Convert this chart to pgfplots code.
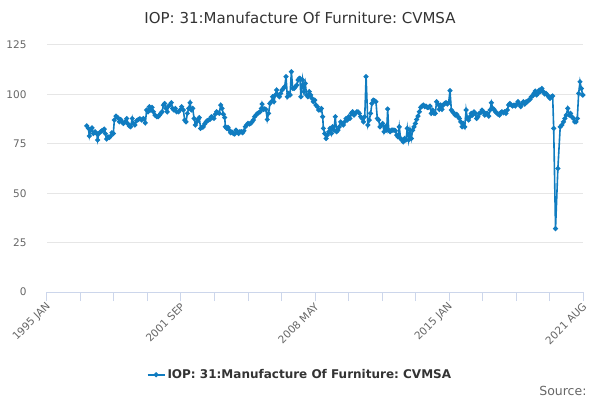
\documentclass[border=0pt]{standalone}
\usepackage{pgfplots}
\pgfplotsset{compat=1.18}
\usepackage{fontspec}
\setmainfont{DejaVu Sans}
\frenchspacing
\definecolor{lineblue}{RGB}{16,124,192}
\definecolor{axisblue}{HTML}{CCD6EB}
\definecolor{gridgray}{HTML}{E6E6E6}
\definecolor{ticktext}{HTML}{666666}
\definecolor{titletext}{HTML}{333333}
\begin{document}
\begin{tikzpicture}[x=1pt,y=1pt]
\path[use as bounding box] (0,0) rectangle (600,400);
\node[font=\fontsize{15}{18}\selectfont, text=titletext] at (300,382) {IOP: 31:Manufacture Of Furniture: CVMSA};
\node[font=\fontsize{12.5}{14}\selectfont, text=ticktext, anchor=east] at (590,9) {Source:};
\begin{axis}[
  at={(47pt,108pt)}, anchor=south west,
  scale only axis, width=536pt, height=247pt,
  xmin=0, xmax=320, ymin=0, ymax=125,
  axis x line*=bottom, axis y line*=left,
  axis line style={-},
  y axis line style={draw=none},
  x axis line style={color=axisblue, line width=1pt},
  ytick={0,25,50,75,100,125},
  ytick style={draw=none},
  xtick={0,80,160,240,320},
  xticklabels={1995 JAN,2001 SEP,2008 MAY,2015 JAN,2021 AUG},
  minor xtick={20,40,60,100,120,140,180,200,220,260,280,300},
  tick align=outside,
  major tick length=9pt, minor tick length=9pt,
  x tick style={color=axisblue, line width=1pt},
  minor x tick style={color=axisblue, line width=1pt},
  ymajorgrids, grid style={color=gridgray, line width=1pt},
  /pgf/number format/assume math mode=true,
  yticklabel style={font=\fontsize{10.5}{12}\selectfont, text=ticktext, xshift=-8pt},
  xticklabel style={font=\fontsize{10.5}{12}\selectfont, text=ticktext, rotate=45, anchor=east, yshift=-4pt, xshift=2pt},
  legend style={at={(0.472,-0.335)}, anchor=center, draw=none, fill=none,
    font=\bfseries\fontsize{12}{14}\selectfont, text=titletext},
  legend cell align=left,
]
\addplot[color=lineblue, line width=1.6pt, mark=*, mark size=1.6pt, mark options={fill=lineblue, draw=lineblue}] table {
x y
23.7 84.1
24.7 82.8
25.3 78.9
26.1 81.9
26.9 83.1
27.7 80.2
28.7 81.1
29.7 80.2
30.2 76.9
31.0 80.2
32.0 81.1
32.8 81.6
33.6 81.9
34.2 82.4
34.8 80.2
35.6 77.4
36.4 78.5
37.2 78.2
38.0 78.9
38.8 80.6
39.6 80.2
40.2 87.0
41.2 89.0
42.2 88.3
43.2 86.1
44.0 87.3
44.8 86.1
45.6 85.3
46.6 86.1
47.6 87.8
48.4 85.0
49.2 84.0
49.9 83.6
50.9 87.8
51.5 85.3
52.5 84.5
53.5 86.7
54.5 87.3
55.5 87.7
56.5 87.0
57.5 87.8
58.7 85.6
59.5 92.1
60.3 91.2
61.1 93.8
61.9 92.1
62.7 93.4
63.5 91.2
64.5 89.5
65.5 88.7
66.3 88.7
67.1 89.5
67.9 90.4
68.7 91.2
69.5 94.6
70.2 95.4
71.0 92.9
71.8 91.2
72.6 94.1
73.4 94.6
74.2 95.8
75.0 92.9
75.8 92.1
76.6 92.9
77.4 91.2
78.6 91.2
79.4 92.1
80.4 93.8
81.4 92.1
82.2 87.0
83.0 86.1
83.8 90.4
84.6 92.9
85.4 95.8
86.2 92.1
87.0 92.9
87.8 87.8
88.6 84.5
89.4 86.1
90.1 87.3
90.9 88.3
91.7 82.8
92.5 83.3
93.3 83.6
94.1 85.0
94.9 86.0
95.7 86.7
96.5 87.0
97.3 87.3
98.1 88.7
98.9 88.3
99.7 87.8
100.5 90.0
101.3 91.2
102.1 90.7
102.9 90.4
103.7 94.6
104.5 92.9
105.3 90.0
106.1 88.3
106.5 83.6
107.3 82.8
108.1 83.3
108.9 81.9
109.6 80.6
110.4 80.9
111.2 80.2
112.0 79.9
112.8 81.9
113.6 81.1
114.4 80.2
115.2 81.1
116.0 81.1
116.8 80.6
117.6 81.6
118.4 83.6
119.2 84.5
120.0 85.3
120.8 85.0
121.6 85.3
122.4 86.1
123.2 87.0
124.0 88.7
124.8 89.5
125.6 90.4
126.4 90.7
127.2 91.2
128.0 92.9
128.4 95.1
129.2 92.4
130.0 92.7
130.7 92.4
131.5 87.3
132.3 90.4
133.1 95.4
133.9 96.3
134.7 98.8
135.5 96.3
136.3 99.7
137.1 102.2
137.9 99.7
138.7 98.8
139.5 100.5
140.3 102.2
141.1 103.0
141.9 103.9
142.7 109.0
143.5 98.8
144.3 100.5
145.1 99.7
145.9 111.5
146.7 103.0
147.5 103.0
148.3 103.9
149.1 104.7
149.9 107.3
150.6 108.1
151.0 108.1
151.6 98.8
152.6 107.3
153.4 101.4
154.2 105.6
155.0 99.7
155.8 98.8
156.6 101.4
157.4 99.7
158.2 98.0
159.0 96.3
159.8 97.1
160.6 94.6
161.4 93.8
162.2 92.1
163.0 92.1
163.8 92.9
164.6 88.7
165.0 82.8
165.8 80.2
166.6 77.7
167.4 79.4
168.2 81.1
169.0 82.8
169.8 80.2
170.5 83.6
171.3 81.9
172.1 88.7
172.9 81.1
173.7 81.9
174.5 83.6
175.3 86.1
176.1 85.3
176.9 84.5
177.7 86.1
178.5 87.8
179.3 87.0
180.1 88.7
180.9 87.8
181.7 90.4
182.5 91.2
183.3 89.5
184.1 90.4
184.9 91.2
185.7 91.2
186.5 90.4
187.3 88.7
188.1 87.8
188.9 86.1
189.7 88.7
190.5 109.0
191.6 84.5
192.4 87.0
193.2 90.4
194.0 95.4
194.8 97.1
195.6 96.8
196.4 96.3
197.2 87.8
198.0 87.0
198.8 83.6
199.6 84.5
200.4 85.3
201.2 81.1
202.0 83.6
202.8 81.9
203.4 92.6
204.0 81.9
204.8 81.1
205.6 81.9
206.4 81.9
207.2 81.9
208.0 81.6
208.8 79.4
209.6 78.5
210.3 83.6
211.1 77.7
211.9 76.9
212.7 76.0
213.5 77.7
214.3 76.9
215.1 82.8
215.9 76.9
216.7 81.9
217.5 77.7
218.3 81.9
219.1 83.6
219.9 85.3
220.7 87.3
221.5 89.0
222.3 91.2
223.1 93.4
223.9 94.1
224.7 94.6
225.5 93.8
226.3 94.1
227.1 93.4
227.9 93.4
228.7 94.1
229.4 90.4
230.2 92.1
231.0 90.4
231.8 90.4
232.6 96.3
233.4 95.1
234.2 92.4
235.0 94.6
235.8 92.4
236.6 94.6
237.4 95.4
238.2 95.8
239.0 95.1
239.8 95.8
240.6 101.9
241.4 92.1
242.2 91.2
243.0 90.4
243.8 89.5
244.6 89.9
245.4 88.7
246.2 87.8
247.0 86.1
247.8 83.6
248.6 85.3
249.4 83.6
250.2 92.1
251.0 87.8
251.7 87.0
252.5 88.7
253.3 90.4
254.1 89.5
254.9 91.2
255.7 90.4
256.5 87.8
257.3 88.7
258.1 90.4
258.9 90.7
259.7 92.1
260.5 91.2
261.3 89.5
262.1 90.4
262.9 90.4
263.7 89.0
264.5 92.1
265.3 95.8
266.1 92.9
266.9 92.4
267.7 91.2
268.5 90.7
269.3 90.0
270.1 89.5
270.8 90.7
271.6 91.2
272.4 90.7
273.2 91.2
274.0 90.4
274.8 92.1
275.6 94.6
276.4 95.4
277.2 94.6
278.0 94.1
278.8 94.6
279.6 94.1
280.4 95.1
281.2 96.3
282.0 95.1
282.8 93.8
283.6 95.4
284.4 96.3
285.2 95.1
286.0 96.3
286.8 96.3
287.6 97.1
288.4 97.5
289.2 98.8
290.0 99.2
290.7 100.5
291.5 101.7
292.3 99.7
293.1 100.5
293.9 102.2
294.7 101.4
295.5 103.0
296.3 101.4
297.1 100.2
297.9 100.5
298.7 99.7
299.5 98.8
300.3 98.0
301.1 98.8
301.9 99.2
302.5 82.8
303.6 32.1
305.0 62.5
306.4 83.6
307.4 84.5
308.3 86.1
309.2 87.8
310.0 89.5
310.9 92.9
311.8 89.5
312.6 90.4
313.4 88.7
314.2 87.8
315.0 86.1
315.8 86.1
316.6 87.8
317.4 100.5
318.2 106.4
319.0 103.0
319.8 99.7
320.0 99.7
};
\addlegendentry{IOP: 31:Manufacture Of Furniture: CVMSA}
\end{axis}
\end{tikzpicture}
\end{document}
